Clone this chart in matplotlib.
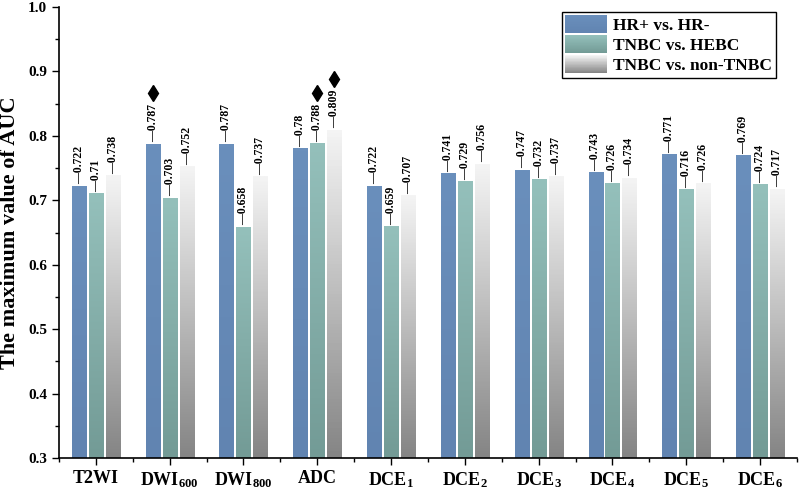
import numpy as np
import matplotlib
matplotlib.use("Agg")
import matplotlib.pyplot as plt
from matplotlib.patches import Rectangle
from matplotlib.legend_handler import HandlerBase
from matplotlib.colors import LinearSegmentedColormap

plt.rcParams["font.family"] = ["Liberation Serif", "DejaVu Serif"]
plt.rcParams["font.weight"] = "bold"
plt.rcParams["mathtext.fontset"] = "custom"
plt.rcParams["mathtext.rm"] = "Liberation Serif:weight=bold"
plt.rcParams["mathtext.bf"] = "Liberation Serif:weight=bold"
plt.rcParams["mathtext.default"] = "bf"

categories = ["T2WI", r"DWI$_{600}$", r"DWI$_{800}$", "ADC",
              r"DCE$_{1}$", r"DCE$_{2}$", r"DCE$_{3}$",
              r"DCE$_{4}$", r"DCE$_{5}$", r"DCE$_{6}$"]
series_names = ["HR+ vs. HR-", "TNBC vs. HEBC", "TNBC vs. non-TNBC"]
hr = [0.722, 0.787, 0.787, 0.78, 0.722, 0.741, 0.747, 0.743, 0.771, 0.769]
tnbc_hebc = [0.71, 0.703, 0.658, 0.788, 0.659, 0.729, 0.732, 0.726, 0.716, 0.724]
tnbc_non = [0.738, 0.752, 0.737, 0.809, 0.707, 0.756, 0.737, 0.734, 0.726, 0.717]
# (series index, category index) with a significance marker
markers = [(0, 1), (1, 3), (2, 3)]

series = [hr, tnbc_hebc, tnbc_non]
ymin = 0.3
cmaps = [
    LinearSegmentedColormap.from_list("b", ["#6184b1", "#6a8fbc"]),
    LinearSegmentedColormap.from_list("t", ["#739b96", "#94c0bb"]),
    LinearSegmentedColormap.from_list("g", ["#858585", "#f4f4f4"]),
]


class GradientHandler(HandlerBase):
    def __init__(self, cmap):
        super().__init__()
        self.cmap = cmap

    def create_artists(self, legend, orig_handle, xdescent, ydescent,
                       width, height, fontsize, trans):
        n = 30
        arts = []
        for k in range(n):
            r = Rectangle((-xdescent, -ydescent + height * k / n), width, height / n + 0.3,
                          facecolor=self.cmap(k / (n - 1)), edgecolor="none",
                          transform=trans)
            arts.append(r)
        return arts


fig = plt.figure(figsize=(7.99, 4.90), dpi=100)
ax = fig.add_axes([0.0738, 0.0653, 0.9237, 0.9204])

x = np.arange(len(categories))
width = 0.19
step = 0.23
grad = np.linspace(0, 1, 100).reshape(-1, 1)

for i, vals in enumerate(series):
    off = (i - 1) * step
    for j, v in enumerate(vals):
        x0 = x[j] + off - width / 2
        ax.imshow(grad, cmap=cmaps[i], origin="lower", aspect="auto",
                  extent=(x0, x0 + width, ymin, v), zorder=2)
        ax.text(x[j] + off, v + 0.003, "\u2014" + f"{v:g}", rotation=90,
                ha="center", va="bottom", fontsize=8.5, fontweight="bold")

for i, j in markers:
    ax.plot(x[j] + (i - 1) * step, series[i][j] + 0.079, marker="d",
            color="black", markersize=8, zorder=3)

ax.set_xlim(-0.5, len(categories) - 0.5)
ax.set_ylim(ymin, 1.0)
ax.set_xticks(x)
ax.set_xticklabels(categories, fontsize=13, fontweight="bold")
ax.set_xticks(np.arange(-0.5, len(categories), 1), minor=True)
ax.set_yticks(np.arange(0.3, 1.01, 0.1))
ax.set_yticklabels([f"{t:.1f}" for t in np.arange(0.3, 1.01, 0.1)],
                   fontsize=11, fontweight="bold")
ax.set_yticks(np.arange(0.35, 1.0, 0.1), minor=True)
ax.tick_params(direction="out", length=5, width=1)
ax.tick_params(which="minor", direction="out", length=3, width=1)
for s in ["top", "right"]:
    ax.spines[s].set_visible(False)
for s in ["left", "bottom"]:
    ax.spines[s].set_linewidth(1.2)
ax.set_ylabel("The maximum value of AUC", fontsize=16, fontweight="bold", labelpad=6)

handles = [Rectangle((0, 0), 1, 1) for _ in series_names]
leg = ax.legend(handles, series_names, loc="upper right",
                bbox_to_anchor=(0.971, 0.99),
                handler_map={h: GradientHandler(c) for h, c in zip(handles, cmaps)},
                prop={"size": 12.5, "weight": "bold"}, fancybox=False,
                edgecolor="black", framealpha=1, handlelength=2.4,
                handleheight=1.2, labelspacing=0.08, handletextpad=0.35,
                borderpad=0.2, borderaxespad=0)
leg.get_frame().set_linewidth(1.0)

fig.savefig("out.png", dpi=100)
